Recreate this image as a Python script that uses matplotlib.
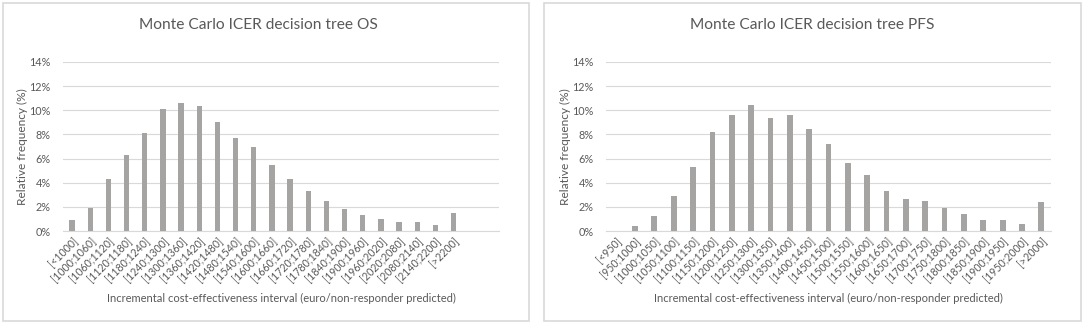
import matplotlib.pyplot as plt
import matplotlib.patches as mpatches
from matplotlib.ticker import FuncFormatter

plt.rcParams['font.family'] = ['Lato', 'DejaVu Sans']

# OS chart data
os_labels = ["[<1000]", "[1000;1060]", "[1060;1120]", "[1120;1180]", "[1180;1240]",
             "[1240;1300]", "[1300;1360]", "[1360;1420]", "[1420;1480]", "[1480;1540]",
             "[1540;1600]", "[1600;1660]", "[1660;1720]", "[1720;1780]", "[1780;1840]",
             "[1840;1900]", "[1900;1960]", "[1960;2020]", "[2020;2080]", "[2080;2140]",
             "[2140;2200]", "[>2200]", "", ""]
os_values = [0.9, 1.9, 4.3, 6.3, 8.15, 10.1, 10.63, 10.39, 9.06, 7.69,
             6.94, 5.48, 4.3, 3.31, 2.46, 1.82, 1.3, 0.97, 0.77, 0.72,
             0.47, 1.49, 0, 0]

# PFS chart data
pfs_labels = ["[<950]", "[950;1000]", "[1000;1050]", "[1050;1100]", "[1100;1150]",
              "[1150;1200]", "[1200;1250]", "[1250;1300]", "[1300;1350]", "[1350;1400]",
              "[1400;1450]", "[1450;1500]", "[1500;1550]", "[1550;1600]", "[1600;1650]",
              "[1650;1700]", "[1700;1750]", "[1750;1800]", "[1800;1850]", "[1850;1900]",
              "[1900;1950]", "[1950;2000]", "[>2000]"]
pfs_values = [0, 0.39, 1.27, 2.92, 5.27, 8.24, 9.64, 10.47, 9.34, 9.61,
              8.43, 7.19, 5.67, 4.63, 3.28, 2.68, 2.46, 1.93, 1.41, 0.88,
              0.91, 0.58, 2.37]

bar_color = "#A6A4A2"
text_color = "#595959"
grid_color = "#D9D9D9"

W, H = 1084, 324
fig = plt.figure(figsize=(W / 100, H / 100), dpi=100)

# chart frames
for x0, x1 in [(3, 529), (544, 1081)]:
    fig.patches.append(mpatches.Rectangle((x0 / W, 3 / H), (x1 - x0) / W, (321 - 3) / H,
                                          transform=fig.transFigure, fill=False,
                                          edgecolor="#D9D9D9", linewidth=1.2))


def draw_chart(rect, labels, values, title, frame_center):
    ax = fig.add_axes(rect)
    x = range(len(labels))
    ax.bar(x, values, width=0.3, color=bar_color, zorder=3)
    ax.set_xlim(-0.5, len(labels) - 0.5)
    ax.set_ylim(0, 14)
    ax.set_yticks(range(0, 15, 2))
    ax.yaxis.set_major_formatter(FuncFormatter(lambda v, p: f"{v:.0f}%"))
    ax.set_xticks(list(x))
    ax.set_xticklabels(labels, rotation=45, ha="right", rotation_mode="anchor",
                       fontsize=7.6, color=text_color)
    ax.tick_params(axis="y", labelsize=7.8, colors=text_color, length=0, pad=9)
    ax.tick_params(axis="x", length=0, pad=3)
    ax.grid(axis="y", color=grid_color, linewidth=0.8, zorder=0)
    for s in ["top", "right", "left"]:
        ax.spines[s].set_visible(False)
    ax.spines["bottom"].set_color(grid_color)
    ax.set_ylabel("Relative frequency (%)", fontsize=8.6, color=text_color, labelpad=1)
    ax.set_xlabel("Incremental cost-effectiveness interval (euro/non-responder predicted)",
                  fontsize=8.0, color=text_color, labelpad=6)
    fig.text(frame_center / W, 1 - 25 / H, title, ha="center", va="center",
             fontsize=11.2, color=text_color)
    return ax


draw_chart([63 / W, 93 / H, 436 / W, 169 / H], os_labels, os_values,
           "Monte Carlo ICER decision tree OS", 258)
draw_chart([606 / W, 93 / H, 445 / W, 169 / H], pfs_labels, pfs_values,
           "Monte Carlo ICER decision tree PFS", 812)

fig.savefig("out.png", dpi=100)
